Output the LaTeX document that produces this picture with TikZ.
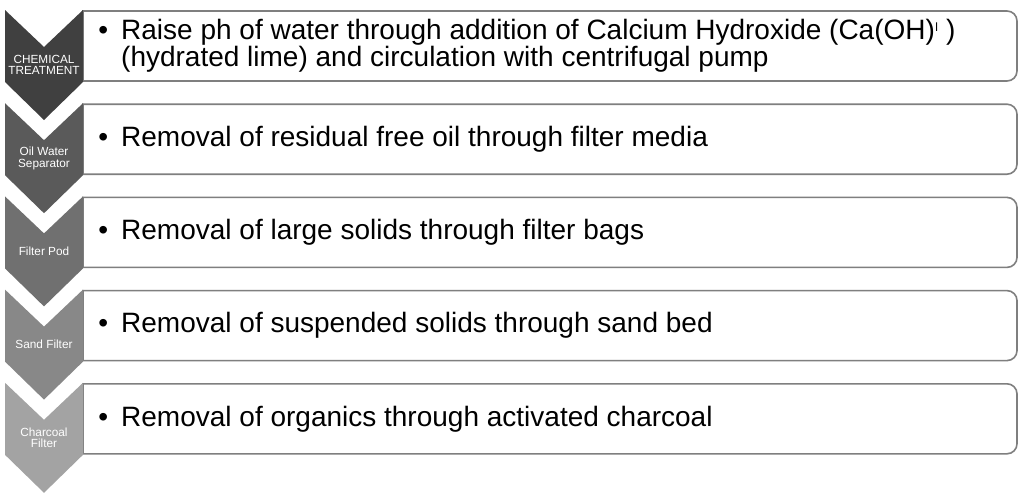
\documentclass[tikz,border=0pt]{standalone}
\usepackage{fontspec}
\setmainfont{Liberation Sans}
\definecolor{cA}{HTML}{404040}
\definecolor{cB}{HTML}{5A5A5A}
\definecolor{cC}{HTML}{707070}
\definecolor{cD}{HTML}{888888}
\definecolor{cE}{HTML}{A3A3A3}
\definecolor{boxline}{HTML}{7F7F7F}
\tikzset{
  boxframe/.style={draw=boxline, line width=1.6pt, fill=white},
  chevlabel/.style={text=white, align=center, font=\fontsize{11.8}{11.5}\selectfont, inner sep=0pt},
  itemtext/.style={anchor=west, align=left, font=\fontsize{28}{27.5}\selectfont, inner sep=0pt},
}
\newcommand{\bul}{\llap{\textbullet\hspace{13pt}}}
\newcommand{\oddsup}{\raisebox{8pt}{\fontsize{12}{12}\selectfont ǀ}}
\begin{document}
\begin{tikzpicture}[x=1pt,y=-1pt]
\useasboundingbox (0,0) rectangle (1024,501);
\fill[white] (0,0) rectangle (1024,501);
\foreach \i/\c in {0/cA,1/cB,2/cC,3/cD,4/cE}{
  \pgfmathsetmacro{\yo}{10+93.2*\i}
  \draw[boxframe] (83,\yo+1) -- (1007,\yo+1) arc[start angle=90,end angle=0,x radius=10,y radius=-10]
     -- (1017,\yo+61) arc[start angle=0,end angle=-90,x radius=10,y radius=-10] -- (83,\yo+71) -- cycle;
  \fill[\c] (5,\yo) -- (44,\yo+37) -- (83,\yo) -- (83,\yo+72) -- (44,\yo+110) -- (5,\yo+72) -- cycle;
}
\node[chevlabel] (l1) at (44,10+55) {CHEMICAL\\TREATMENT};
\node[chevlabel] (l2) at (44,103.2+55) {Oil Water\\Separator};
\node[chevlabel] (l3) at (44,196.4+55) {Filter Pod};
\node[chevlabel] (l4) at (44,289.6+55) {Sand Filter};
\node[chevlabel] (l5) at (44,382.8+55) {Charcoal\\Filter};
\node[itemtext] (t1) at (121,10+36) {\bul Raise ph of water through addition of Calcium Hydroxide (Ca(OH)\oddsup\ )\\(hydrated lime) and circulation with centrifugal pump};
\node[itemtext] (t2) at (121,103.2+36) {\bul Removal of residual free oil through filter media};
\node[itemtext] (t3) at (121,196.4+36) {\bul Removal of large solids through filter bags};
\node[itemtext] (t4) at (121,289.6+36) {\bul Removal of suspended solids through sand bed};
\node[itemtext] (t5) at (121,382.8+36) {\bul Removal of organics through activated charcoal};
\end{tikzpicture}
\end{document}
